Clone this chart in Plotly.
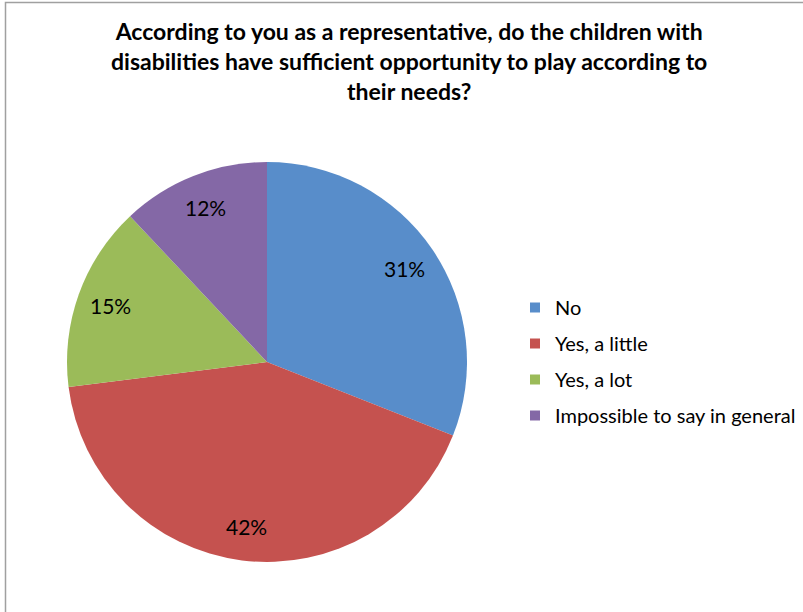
import math
import plotly.graph_objects as go

categories = ["No", "Yes, a little", "Yes, a lot", "Impossible to say in general"]
values = [31, 42, 15, 12]
colors = ["#588DCA", "#C5524F", "#9BBB59", "#8468A6"]
title_lines = [
    "According to you as a representative, do the children with",
    "disabilities have sufficient opportunity to play according to",
    "their needs?",
]

W, H = 803, 612
FONT = "Lato"

# pie geometry (pixels)
cx, cy, R = 267, 362, 200
dom_x = [(cx - R) / W, (cx + R) / W]
dom_y = [1 - (cy + R) / H, 1 - (cy - R) / H]

fig = go.Figure()
fig.add_trace(go.Pie(
    labels=categories,
    values=values,
    sort=False,
    direction="clockwise",
    rotation=0,
    marker=dict(colors=colors, line=dict(color="white", width=0)),
    textinfo="none",
    hoverinfo="label+percent",
    domain=dict(x=dom_x, y=dom_y),
    showlegend=False,
))

# legend entries (one per category) so that the entry spacing can be set
for i, (cat, col) in enumerate(zip(categories, colors)):
    fig.add_trace(go.Scatter(
        x=[None], y=[None], mode="markers", name=cat,
        marker=dict(symbol="square", size=10, color=col),
        legendgroup=f"g{i}", showlegend=True, hoverinfo="skip",
    ))

# percentage labels placed at slice mid-angles
total = sum(values)
acc = 0
annotations = []
for v in values:
    mid = (acc + v / 2) / total * 2 * math.pi
    acc += v
    r = 0.83 * R
    px = cx + r * math.sin(mid)
    py = cy - r * math.cos(mid)
    annotations.append(dict(
        x=px / W, y=1 - py / H, xref="paper", yref="paper",
        text=f"{round(v / total * 100)}%", showarrow=False,
        font=dict(family=FONT, size=21, color="#000000"),
        xanchor="center", yanchor="middle",
    ))

annotations.append(dict(
    x=409 / W, y=1 - 61 / H, xref="paper", yref="paper",
    text="<br>".join(title_lines), showarrow=False,
    font=dict(family=FONT, size=23, color="#000000", weight="bold"),
    xanchor="center", yanchor="middle", align="center",
))

fig.update_layout(
    width=W, height=H,
    margin=dict(l=0, r=0, t=0, b=0),
    paper_bgcolor="white",
    plot_bgcolor="white",
    font=dict(family=FONT, size=20, color="#000000"),
    annotations=annotations,
    xaxis=dict(visible=False, domain=[0.99, 1]),
    yaxis=dict(visible=False, domain=[0.99, 1]),
    legend=dict(
        x=515 / W, y=1 - 288 / H, xanchor="left", yanchor="top",
        font=dict(family=FONT, size=20, color="#000000"),
        itemwidth=30,
        tracegroupgap=7,
        bgcolor="rgba(0,0,0,0)",
    ),
    shapes=[dict(
        type="rect", xref="paper", yref="paper",
        x0=5.5 / W, x1=1.02, y0=-0.02, y1=1 - 2.5 / H,
        line=dict(color="#A0A0A0", width=1.5),
        fillcolor="rgba(0,0,0,0)", layer="below",
    )],
)

fig.write_html("out.html")
